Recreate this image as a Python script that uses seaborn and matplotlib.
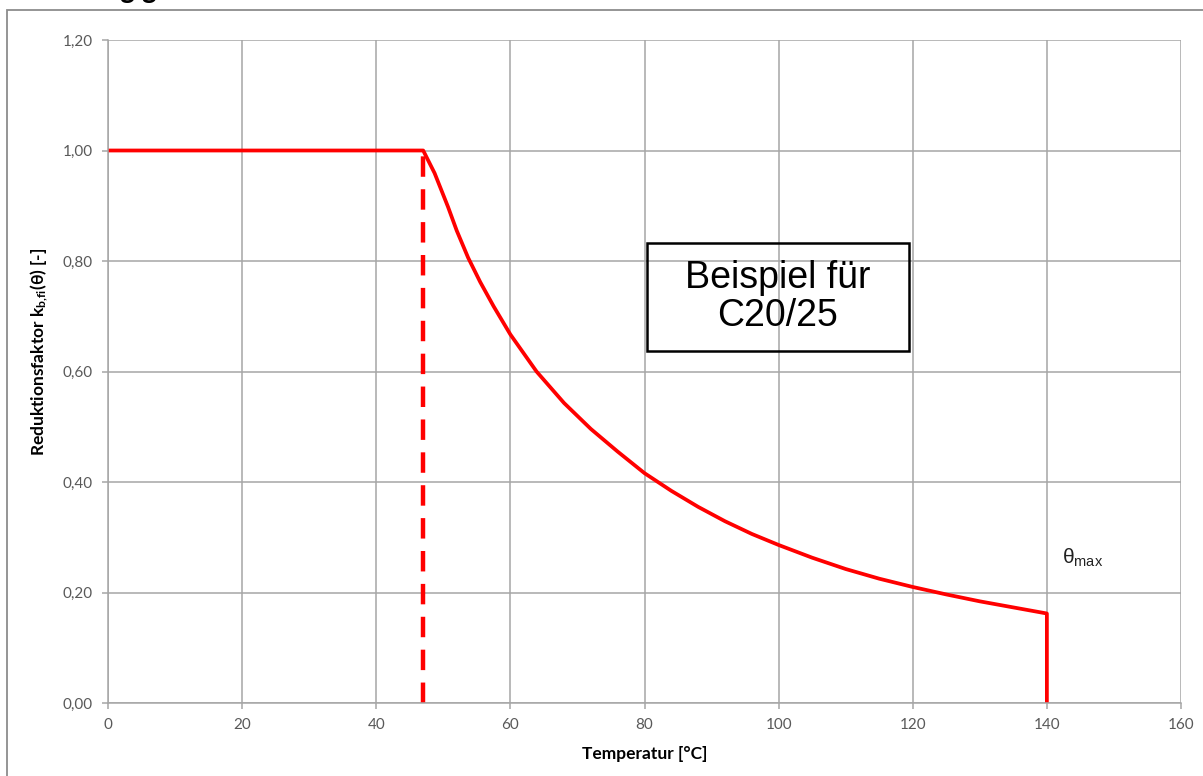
import matplotlib
matplotlib.use("Agg")
import matplotlib.pyplot as plt
import numpy as np
import pandas as pd
import seaborn as sns
from matplotlib.patches import Rectangle

# curve
temperatur = [0, 47, 48.7, 50.7, 52, 53.7, 55.5, 57.5, 60, 63.9, 68, 72, 76, 80, 84, 88,
              92, 96, 100, 105, 110, 115, 120, 125, 130, 135, 140, 140]
faktor = [1.0, 1.0, 0.959, 0.898, 0.855, 0.806, 0.762, 0.718, 0.667, 0.60, 0.543, 0.496,
          0.455, 0.416, 0.384, 0.355, 0.329, 0.306, 0.286, 0.263, 0.2425, 0.225, 0.210,
          0.1965, 0.184, 0.173, 0.162, 0.0]
knick_x = [47, 47]
knick_y = [0.0, 1.0]
x_ticks = [0, 20, 40, 60, 80, 100, 120, 140, 160]
y_ticks = [0.0, 0.2, 0.4, 0.6, 0.8, 1.0, 1.2]

sns.set_style("white")
plt.rcParams["font.family"] = ["Lato", "DejaVu Sans"]
plt.rcParams["mathtext.default"] = "regular"

fig = plt.figure(figsize=(12.03, 7.76), dpi=100)
ax = fig.add_axes([108 / 1203, 73 / 776, 1073 / 1203, 663 / 776])

df = pd.DataFrame({"T": temperatur, "k": faktor})
sns.lineplot(data=df, x="T", y="k", sort=False, estimator=None, color="#ff0000",
             lw=2.7, ax=ax)
df2 = pd.DataFrame({"T": knick_x, "k": knick_y})
sns.lineplot(data=df2, x="T", y="k", sort=False, estimator=None, color="#ff0000",
             lw=3.2, ax=ax, dashes=False)
ax.lines[-1].set_dashes((4.6, 2.8))

ax.set_xlim(0, 160)
ax.set_ylim(0, 1.2)
ax.set_xticks(x_ticks)
ax.set_yticks(y_ticks)
ax.set_xticklabels([str(t) for t in x_ticks])
ax.set_yticklabels([f"{v:.2f}".replace(".", ",") for v in y_ticks])
ax.grid(True, color="#a6a6a6", lw=1.1)
ax.set_axisbelow(True)
for side in ["top", "right"]:
    ax.spines[side].set_visible(False)
for side in ["left", "bottom"]:
    ax.spines[side].set_color("#a6a6a6")
    ax.spines[side].set_linewidth(1.1)
ax.tick_params(axis="both", length=4, width=1.1, color="#a6a6a6", labelcolor="#595959",
               labelsize=11, pad=7, direction="out", bottom=True, left=True)

ax.set_xlabel("Temperatur [°C]", fontsize=12.5, fontweight="bold", labelpad=10,
              color="black")
ax.set_ylabel("Reduktionsfaktor k$_{b{,}fi}$(θ) [-]", fontsize=12.5, fontweight="bold",
              color="black")
ax.yaxis.set_label_coords(-0.054, 0.529)

# example box
ax.add_patch(Rectangle((80.3, 0.637), 39.1, 0.196, fill=False, ec="black", lw=1.8,
                       zorder=5))
ax.text(99.8, 0.735, "Beispiel für\nC20/25", ha="center", va="center", fontsize=27,
        family=["Liberation Sans", "DejaVu Sans"], linespacing=1.05, color="black",
        zorder=6)
ax.text(142.3, 0.262, "θ$_{max}$", ha="left", va="center", fontsize=15,
        family=["Liberation Sans", "DejaVu Sans"], color="#222222")

# outer chart frame and clipped title
fig.add_artist(Rectangle((7 / 1203, -0.05), 1.1, (766 / 776) + 0.05, fill=False,
                         ec="#8c8c8c", lw=1.3, transform=fig.transFigure))
fig.text(40 / 1203, 1 + 2 / 776, "Abhängigkeit", fontsize=20, fontweight="bold",
         va="baseline", ha="left", color="black")

fig.savefig("out.png", dpi=100)
